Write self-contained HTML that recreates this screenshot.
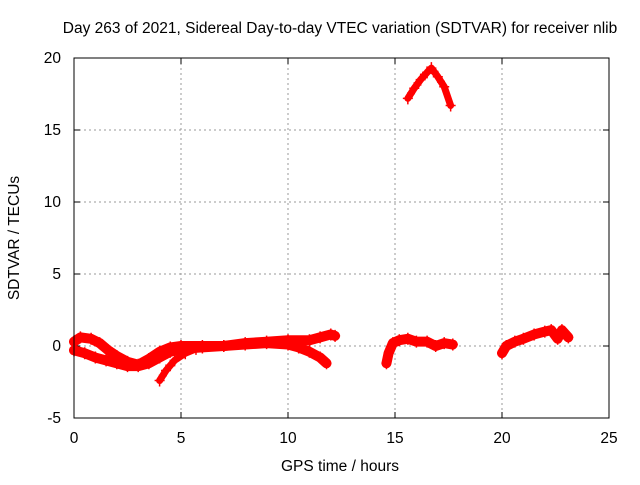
<!DOCTYPE html>
<html><head><meta charset="utf-8"><style>
body{margin:0;background:#fff}
svg text{font-family:"Liberation Sans",sans-serif;font-size:15.5px;fill:#000}
</style></head><body>
<svg id="c" width="640" height="480" xmlns="http://www.w3.org/2000/svg">
<text x="340" y="33" text-anchor="middle">Day 263 of 2021, Sidereal Day-to-day VTEC variation (SDTVAR) for receiver nlib</text>
<text x="340" y="471" text-anchor="middle">GPS time / hours</text>
<text x="19" y="238" text-anchor="middle" transform="rotate(-90 19 238)">SDTVAR / TECUs</text>
<g id="grid"></g><g id="data"></g>
<rect x="74" y="58" width="535" height="360" fill="none" stroke="#000" stroke-width="1"/>
</svg>
<script>
const xTicks=[0,5,10,15,20,25];
const yTicks=[-5,0,5,10,15,20];
const upperTrack=[[0,0.3],[0.3,0.6],[0.8,0.5],[1.2,0.2],[1.6,-0.3],[2.0,-0.7],[2.5,-1.1],[3.0,-1.3],[3.5,-0.9],[4.0,-0.4],[4.5,-0.1],[5,0.0],[6,0.0],[7,0.0],[8,0.2],[9,0.3],[10,0.4],[11,0.4],[11.5,0.6],[12,0.8],[12.2,0.7]];
const lowerTrack=[[0,-0.3],[0.5,-0.5],[1,-0.8],[1.5,-1.0],[2.0,-1.2],[2.5,-1.4],[3,-1.4],[3.5,-1.2],[4,-0.8],[4.5,-0.4],[5,-0.2],[6,-0.1],[7,0.0],[8,0.1],[9,0.2],[10,0.1],[10.5,-0.1],[11,-0.4],[11.5,-0.8],[11.8,-1.2]];
const branch=[[4.0,-2.4],[4.3,-1.7],[4.7,-1.0],[5.2,-0.5],[5.7,-0.2]];
const peakArc=[[15.6,17.2],[15.9,17.9],[16.2,18.5],[16.5,19.0],[16.7,19.3],[17.0,18.7],[17.3,18.0],[17.6,16.7]];
const midTrack=[[14.6,-1.2],[14.7,-0.5],[14.9,0.2],[15.2,0.4],[15.6,0.5],[16.0,0.3],[16.5,0.3],[16.9,0.0],[17.3,0.2],[17.7,0.1]];
const lateTrack=[[20.0,-0.5],[20.2,0.0],[20.6,0.3],[21.0,0.5],[21.5,0.8],[22.0,1.0],[22.3,1.1],[22.6,0.5],[22.8,1.1],[23.1,0.6]];
const NS='http://www.w3.org/2000/svg';
const X=v=>74+v*535/25, Y=v=>58+(20-v)*360/25;
const grid=document.getElementById('grid'), data=document.getElementById('data');
function mk(t,a,p){const e=document.createElementNS(NS,t);for(const k in a)e.setAttribute(k,a[k]);p.appendChild(e);return e;}
xTicks.forEach(t=>{
 if(t>0&&t<25){const l=mk('line',{x1:X(t),x2:X(t),y1:58,y2:418,stroke:'#999','stroke-dasharray':'2,3'},grid);
 
 }
 const s=mk('line',{x1:X(t),x2:X(t),y1:418,y2:412,stroke:'#000'},grid);
 
 
 const s2=mk('line',{x1:X(t),x2:X(t),y1:58,y2:64,stroke:'#000'},grid);
 
 
 const tx=mk('text',{x:X(t),y:443,'text-anchor':'middle'},grid);tx.textContent=t;
 
 
});
yTicks.forEach(t=>{
 if(t>-5&&t<20){const l=mk('line',{x1:74,x2:609,y1:Y(t),y2:Y(t),stroke:'#999','stroke-dasharray':'2,3'},grid);
 
 }
 const s=mk('line',{x1:74,x2:80,y1:Y(t),y2:Y(t),stroke:'#000'},grid);
 
 
 const s2=mk('line',{x1:603,x2:609,y1:Y(t),y2:Y(t),stroke:'#000'},grid);
 
 
 const tx=mk('text',{x:61,y:Y(t)+5,'text-anchor':'end'},grid);tx.textContent=t;
 
 
});
function series(pts,name,w){
 const g=mk('g',{},data);
 
 
 mk('polyline',{points:pts.map(p=>X(p[0])+','+Y(p[1])).join(' '),fill:'none',stroke:'#f00','stroke-width':w,'stroke-linejoin':'round','stroke-linecap':'round'},g);
 pts.forEach(p=>{const m=mk('path',{d:`M${X(p[0])-5},${Y(p[1])}h10M${X(p[0])},${Y(p[1])-6}v12`,stroke:'#f00','stroke-width':1.5},g);
 
 });
}
series(upperTrack,'upper-track',10);
series(lowerTrack,'lower-track',10);
series(branch,'descending-branch',7);
series(peakArc,'peak-arc',7);
series(midTrack,'mid-track',10);
series(lateTrack,'late-track',10);
</script>
</body></html>
